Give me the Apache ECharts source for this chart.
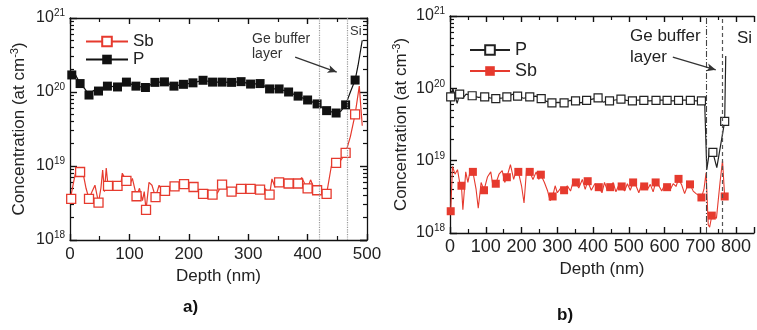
<!DOCTYPE html>
<html><head><meta charset="utf-8">
<script src="https://cdn.jsdelivr.net/npm/echarts@6/dist/echarts.min.js"></script>
<style>html,body{margin:0;padding:0;background:#fff}#c{width:757px;height:330px}</style>
</head><body><div id="c"></div>
<script>
// ---------- data: panel a) ----------
const pMarkA = [[3,1.7e20],[17,1.3e20],[32,0.91e20],[48,1.03e20],[63,1.2e20],[80,1.17e20],[95,1.36e20],[111,1.2e20],[127,1.15e20],[143,1.35e20],[159,1.37e20],[175,1.2e20],[191,1.27e20],[207,1.33e20],[224,1.44e20],[240,1.36e20],[256,1.36e20],[272,1.35e20],[288,1.38e20],[304,1.28e20],[320,1.3e20],[336,1.1e20],[352,1.1e20],[368,1.0e20],[384,0.88e20],[400,0.78e20],[416,0.69e20],[432,0.56e20],[448,0.52e20],[464,0.67e20],[480,1.45e20]];
const pLineA = [[0,1.6e20],[7,1.85e20],[11,1.6e20],[25,1.1e20],[40,1.05e20],[456,0.55e20],[472,1.0e20],[485,2.3e20],[490,4e20],[492,5e20]];
const sbMarkA = [[2,3.6e18],[17,8.3e18],[32,3.6e18],[48,3.2e18],[64,5.4e18],[80,5.4e18],[95,6.3e18],[112,3.9e18],[128,2.55e18],[144,3.8e18],[160,4.6e18],[176,5.3e18],[192,5.7e18],[208,5.2e18],[224,4.2e18],[240,4.1e18],[256,5.6e18],[272,4.5e18],[288,4.9e18],[304,4.9e18],[320,4.8e18],[336,4.1e18],[352,6.0e18],[368,5.8e18],[384,5.8e18],[400,5.0e18],[416,4.7e18],[432,4.2e18],[448,1.1e19],[464,1.5e19],[480,5e19]];
const sbLineA = [[0,3.4e18],[6,6e18],[10,8.6e18],[22,8e18],[27,5e18],[37,4.5e18],[42,5.5e18],[52,5e18],[55,8.8e18],[58,4.5e18],[61,9.4e18],[70,5.6e18],[75,5e18],[85,5.2e18],[88,8e18],[100,5.5e18],[105,6.8e18],[117,5e18],[122,3.4e18],[125,4.5e18],[133,6e18],[138,5.5e18],[150,5.5e18],[155,4.6e18],[168,4.8e18],[184,5.5e18],[200,5.8e18],[216,4.6e18],[232,4.8e18],[248,4.3e18],[264,5.2e18],[280,4.8e18],[296,4.6e18],[312,5.2e18],[328,5e18],[340,6.7e18],[345,5.2e18],[360,6.2e18],[376,5.5e18],[390,7e18],[395,5.8e18],[405,6.5e18],[410,5.2e18],[424,4.4e18],[440,1e19],[456,1.2e19],[472,2.5e19],[487,1.2e20],[492,3.5e19]];
const bufferLinesA = [420, 467];
const arrowA = [[379,2.95e20],[449,1.86e20]];

// ---------- data: panel b) ----------
const pMarkB = [[2,7.6e19],[27,8.3e19],[62,7.9e19],[97,7.6e19],[128,7.2e19],[159,7.6e19],[189,7.8e19],[223,7.6e19],[255,7.2e19],[285,6.3e19],[319,6.3e19],[351,6.7e19],[382,6.8e19],[414,7.4e19],[446,6.7e19],[478,7.1e19],[510,6.7e19],[542,6.8e19],[576,6.8e19],[607,6.8e19],[639,6.8e19],[672,6.8e19],[703,6.7e19],[735,1.3e19],[768,3.5e19]];
const pLineB = [[0,7e19],[8,1e20],[14,8e19],[20,6.2e19],[35,7.2e19],[45,8.3e19],[80,7.5e19],[112,7.4e19],[143,7.3e19],[175,8.3e19],[206,7.3e19],[240,7.8e19],[270,6.6e19],[302,6.4e19],[335,6.8e19],[366,6.3e19],[398,7.1e19],[430,6.4e19],[440,7e19],[462,6.9e19],[494,6.8e19],[526,6.9e19],[558,6.7e19],[592,6.9e19],[623,6.7e19],[655,6.9e19],[688,6.7e19],[712,6.6e19],[718,7.5e18],[726,1.4e19],[746,8e18],[771,2.8e20]];
const sbMarkB = [[2,2.0e18],[32,4.5e18],[64,7.0e18],[95,3.9e18],[128,4.8e18],[159,5.9e18],[191,7.0e18],[223,7.0e18],[254,6.4e18],[287,3.2e18],[319,3.9e18],[352,5.0e18],[385,5.2e18],[416,4.3e18],[448,4.3e18],[480,4.4e18],[512,5.0e18],[543,4.4e18],[575,5.0e18],[607,4.3e18],[639,5.6e18],[671,4.7e18],[703,3.1e18],[732,1.74e18],[768,3.2e18]];
const sbLineB = [[7,8.3e18],[14,6.5e18],[21,7.5e18],[27,5e18],[36,2.1e18],[44,7e18],[50,5e18],[57,7.5e18],[73,4e18],[79,2.2e18],[87,5e18],[105,6e18],[114,7e18],[120,4.5e18],[137,6.5e18],[146,7.3e18],[153,5e18],[169,8.8e18],[178,5.5e18],[184,7e18],[200,4.5e18],[207,2.6e18],[214,7.5e18],[232,5.5e18],[241,7e18],[248,5.5e18],[264,5e18],[273,3.8e18],[280,2.8e18],[294,4.5e18],[300,3.6e18],[310,4.2e18],[328,4.5e18],[337,3.8e18],[346,5.5e18],[360,4.2e18],[370,5.5e18],[378,4e18],[395,3.9e18],[405,4.8e18],[425,3.6e18],[432,5e18],[440,3.9e18],[456,5e18],[464,3.7e18],[472,4.6e18],[488,3.8e18],[496,4.8e18],[504,3.9e18],[520,4.5e18],[528,3.6e18],[536,4.8e18],[552,4e18],[560,4.7e18],[568,3.7e18],[584,4.5e18],[592,3.8e18],[600,4.6e18],[616,4e18],[624,4.8e18],[632,4.4e18],[648,4.6e18],[656,3.5e18],[664,4.5e18],[680,3.8e18],[688,3.5e18],[696,3.3e18],[710,4e18],[716,6.8e18],[722,1.3e18],[726,1.2e18],[745,1.6e18],[755,5e18],[762,1e19]];
const bufferLinesB = [716, 762];
const arrowB = [[623,2.7e20],[743,1.8e20]];

// ---------- ticks ----------
const xTicksA = [0,100,200,300,400,500];
const xTicksB = [0,100,200,300,400,500,600,700,800];
const yExpMin = 18, yExpMax = 21;
const yMinorExp = [];   // minor log ticks (2..9 x 10^k), expressed as exponents
[18,19,20].forEach(k => { for (let m = 2; m <= 9; m++) yMinorExp.push(k + Math.log10(m)); });

const RED = '#e63a2e', BLK = '#111';
const FONT = '"Liberation Sans", Arial, sans-serif';

function build(line, marks) {
  const a = line.map(p => ({ value: p, symbol: 'none' })).concat(marks.map(p => ({ value: p })));
  a.sort((u, v) => u.value[0] - v.value[0]);
  return a;
}

const supRich = { b: { fontSize: 16, fontFamily: FONT, color: '#222' }, s: { fontSize: 10, fontFamily: FONT, color: '#222', padding: [0, 0, 9, 0] } };
function decadeLabel(v) { const e = Math.round(Math.log10(v)); return '{b|10}{s|' + e + '}'; }

function xAxes(gi, max, ticks, fs, nameGap, margin) {
  const base = {
    gridIndex: gi, type: 'value', min: 0, max: max, interval: 100,
    axisLine: { show: true, onZero: false, lineStyle: { color: BLK, width: 1.3 } },
    axisTick: { inside: true, length: 6, lineStyle: { color: BLK, width: 1.4 } },
    minorTick: { show: true, splitNumber: 2, length: 4, lineStyle: { color: BLK, width: 1.2 } },
    splitLine: { show: false }
  };
  return [
    Object.assign({}, base, {
      position: 'bottom',
      axisLabel: { fontSize: fs, fontFamily: FONT, color: '#222', margin: margin,
        formatter: v => (ticks.indexOf(v) >= 0 ? String(v) : '') },
      name: 'Depth (nm)', nameLocation: 'middle', nameGap: nameGap,
      nameTextStyle: { fontSize: 17, fontFamily: FONT, color: '#222' }
    }),
    Object.assign({}, base, { position: 'top', axisLabel: { show: false } })
  ];
}

function yAxes(gi, withRight, nameGap) {
  const common = { gridIndex: gi, type: 'log', logBase: 10, min: 1e18, max: 1e21, splitLine: { show: false } };
  const minorAxis = pos => ({
    gridIndex: gi, type: 'value', min: yExpMin, max: yExpMax, position: pos, splitLine: { show: false },
    axisLine: { show: false },
    axisTick: { inside: true, length: 4, customValues: yMinorExp, lineStyle: { color: BLK, width: 1.2 } },
    axisLabel: { show: false }
  });
  const list = [
    Object.assign({}, common, {
      position: 'left',
      axisLine: { show: true, lineStyle: { color: BLK, width: 1.3 } },
      axisTick: { inside: true, length: 7, lineStyle: { color: BLK, width: 1.4 } },
      axisLabel: { formatter: decadeLabel, rich: supRich, margin: 5 },
      name: 'Concentration (at cm{s|-3})', nameLocation: 'middle', nameGap: nameGap, nameRotate: 90,
      nameTextStyle: { fontSize: 17, fontFamily: FONT, color: '#222',
        rich: { s: { fontSize: 11, fontFamily: FONT, color: '#222', padding: [0, 0, 10, 0] } } }
    }),
    minorAxis('left')
  ];
  if (withRight) {
    list.push(Object.assign({}, common, {
      position: 'right',
      axisLine: { show: true, lineStyle: { color: BLK, width: 1.3 } },
      axisTick: { inside: true, length: 7, lineStyle: { color: BLK, width: 1.4 } },
      axisLabel: { show: false }
    }));
    list.push(minorAxis('right'));
  }
  return list;
}

function vLines(vals, styles) {
  return vals.map((v, i) => ({ xAxis: v, lineStyle: styles[i] }));
}
function arrow(a, color) {
  return [{ coord: a[0], symbol: 'none', lineStyle: { color: color, width: 1.3, type: 'solid' } },
          { coord: a[1], symbol: 'arrow', symbolSize: [6, 9] }];
}

const xa = xAxes(0, 500, xTicksA, 17, 22, 6);
const xb = xAxes(1, 850, xTicksB, 18, 28, 5);
const ya = yAxes(0, true, 40);
const yb = yAxes(1, false, 38);

const option = {
  animation: false,
  backgroundColor: '#fff',
  textStyle: { fontFamily: FONT },
  grid: [
    { left: 70, top: 18, width: 297, height: 222 },
    { left: 450, top: 16, width: 311, height: 217 }
  ],
  xAxis: [xa[0], xa[1], xb[0], xb[1]],
  yAxis: ya.concat(yb),
  legend: [
    { data: ['Sb', 'P'], orient: 'vertical', left: 80, top: 28, itemWidth: 42, itemHeight: 12, itemGap: 1,
      textStyle: { fontSize: 17, fontFamily: FONT, color: '#222', lineHeight: 16 }, selectedMode: false },
    { data: ['P ', 'Sb '], orient: 'vertical', left: 464, top: 36, itemWidth: 40, itemHeight: 12, itemGap: 3,
      formatter: n => n.trim(),
      textStyle: { fontSize: 18, fontFamily: FONT, color: '#222', lineHeight: 16 }, selectedMode: false }
  ],
  series: [
    { name: 'Sb', type: 'line', xAxisIndex: 0, yAxisIndex: 0, data: build(sbLineA, sbMarkA),
      symbol: 'rect', symbolSize: 9, showAllSymbol: true,
      lineStyle: { color: RED, width: 1.2 }, itemStyle: { color: '#fff', borderColor: RED, borderWidth: 1.3 }, z: 3 },
    { name: 'P', type: 'line', xAxisIndex: 0, yAxisIndex: 0, data: build(pLineA, pMarkA),
      symbol: 'rect', symbolSize: 9, showAllSymbol: true,
      lineStyle: { color: BLK, width: 1.2 }, itemStyle: { color: BLK, borderColor: BLK, borderWidth: 0 }, z: 3,
      markLine: { silent: true, symbol: ['none', 'none'], label: { show: false },
        data: vLines(bufferLinesA, [{ color: '#999', type: 'dotted', width: 1.2 }, { color: '#999', type: 'dotted', width: 1.2 }])
          .concat([arrow(arrowA, '#333')]) } },
    { name: 'P ', type: 'line', xAxisIndex: 2, yAxisIndex: 4, data: build(pLineB, pMarkB),
      symbol: 'rect', symbolSize: 8, showAllSymbol: true,
      lineStyle: { color: '#222', width: 1.2 }, itemStyle: { color: '#fff', borderColor: '#222', borderWidth: 1.2 }, z: 4,
      markLine: { silent: true, symbol: ['none', 'none'], label: { show: false },
        data: vLines(bufferLinesB, [{ color: '#444', type: [6, 2, 1, 2], width: 1.1 }, { color: '#555', type: [4, 3], width: 1.2 }])
          .concat([arrow(arrowB, '#333')]) } },
    { name: 'Sb ', type: 'line', xAxisIndex: 2, yAxisIndex: 4, data: build(sbLineB, sbMarkB),
      symbol: 'rect', symbolSize: 8, showAllSymbol: true,
      lineStyle: { color: RED, width: 1.1 }, itemStyle: { color: RED, borderColor: RED, borderWidth: 0 }, z: 3 }
  ],
  graphic: [
    { type: 'text', left: 252, top: 32, style: { text: 'Ge buffer', fontSize: 14, fontFamily: FONT, fill: '#333' } },
    { type: 'text', left: 252, top: 47, style: { text: 'layer', fontSize: 14, fontFamily: FONT, fill: '#333' } },
    { type: 'text', left: 350, top: 25, style: { text: 'Si', fontSize: 13, fontFamily: FONT, fill: '#333' } },
    { type: 'text', left: 630, top: 28, style: { text: 'Ge buffer', fontSize: 17, fontFamily: FONT, fill: '#222' } },
    { type: 'text', left: 630, top: 49, style: { text: 'layer', fontSize: 17, fontFamily: FONT, fill: '#222' } },
    { type: 'text', left: 737, top: 30, style: { text: 'Si', fontSize: 17, fontFamily: FONT, fill: '#222' } },
    { type: 'text', left: 183, top: 299, style: { text: 'a)', fontSize: 17, fontWeight: 'bold', fontFamily: FONT, fill: '#111' } },
    { type: 'text', left: 557, top: 307, style: { text: 'b)', fontSize: 17, fontWeight: 'bold', fontFamily: FONT, fill: '#111' } }
  ]
};
const chart = echarts.init(document.getElementById('c'), null, { renderer: 'canvas' });
chart.setOption(option);
</script></body></html>
